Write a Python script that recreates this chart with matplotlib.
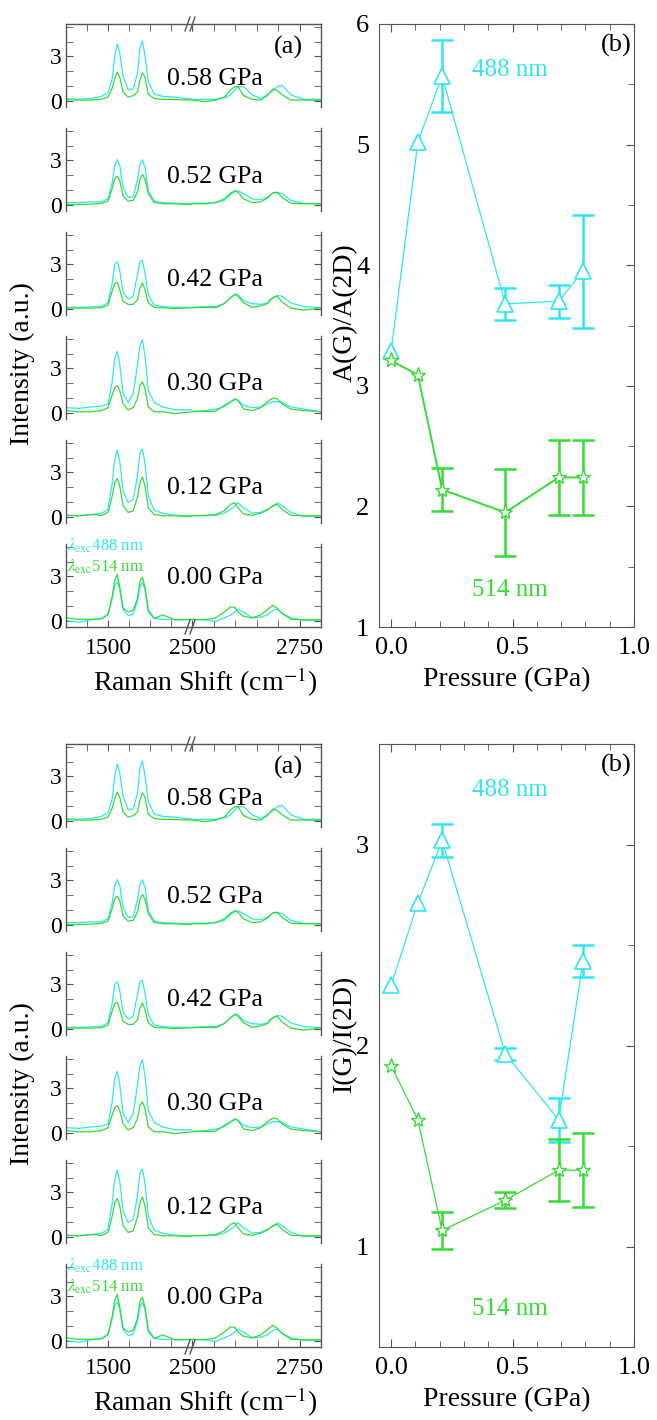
import matplotlib
matplotlib.use("Agg")
import matplotlib.pyplot as plt
from matplotlib.lines import Line2D
from matplotlib.ticker import MultipleLocator, FixedLocator

plt.rcParams['font.family'] = ['Liberation Serif', 'DejaVu Serif']
plt.rcParams['mathtext.fontset'] = 'stix'

CYAN = '#2ee6f2'
GREEN = '#34dc34'
EDGE = '#555555'

W, H = 657, 1420

# ---- spectra (panels listed top to bottom) ----
panel_labels = ['0.58 GPa', '0.52 GPa', '0.42 GPa', '0.30 GPa', '0.12 GPa', '0.00 GPa']
label_heights = [1.5, 1.85, 1.95, 1.95, 1.95, 2.9]

shift_g = [1400, 1430, 1460, 1485, 1500, 1510, 1516, 1522, 1528, 1536, 1548,
           1560, 1570, 1576, 1582, 1588, 1596, 1610, 1630, 1660, 1700]
shift_2d = [2500, 2530, 2555, 2575, 2590, 2600, 2607, 2620, 2640, 2660, 2675,
            2688, 2698, 2710, 2730, 2760, 2800]

g_488 = [
    [0.15, 0.1, 0.15, 0.3, 0.55, 1.5, 3.0, 3.85, 3.2, 1.65, 0.75, 0.8, 1.85, 3.55, 4.05, 3.1, 1.3, 0.45, 0.3, 0.25, 0.1],
    [0.15, 0.15, 0.2, 0.2, 0.4, 1.5, 2.65, 3.05, 2.65, 1.2, 0.5, 0.55, 1.65, 2.75, 3.05, 2.55, 0.95, 0.25, 0.15, 0.1, 0.07],
    [0.1, 0.1, 0.12, 0.18, 0.4, 1.75, 3.0, 3.2, 2.55, 1.1, 0.65, 0.85, 2.3, 3.2, 3.3, 2.4, 0.95, 0.25, 0.15, 0.1, 0.1],
    [0.35, 0.3, 0.4, 0.45, 0.6, 2.1, 3.65, 4.15, 3.3, 1.3, 0.7, 1.3, 3.2, 4.55, 4.95, 3.9, 1.5, 0.7, 0.4, 0.2, 0.2],
    [0.1, 0.07, 0.15, 0.25, 0.5, 2.3, 3.9, 4.5, 3.75, 1.75, 0.95, 1.2, 2.75, 4.3, 4.6, 3.65, 1.4, 0.45, 0.25, 0.1, 0.07],
    [0.02, -0.1, 0.07, 0.15, 0.4, 1.5, 2.4, 2.65, 2.1, 0.75, 0.35, 0.45, 1.3, 2.3, 2.6, 2.1, 0.6, 0.15, 0.1, 0.07, 0.07],
]
g_514 = [
    [0.07, 0.05, 0.05, 0.1, 0.25, 0.85, 1.5, 1.95, 1.6, 0.6, 0.25, 0.35, 0.6, 1.4, 1.9, 1.6, 0.45, 0.15, 0.1, 0.08, 0.05],
    [0.02, 0.02, 0.05, 0.1, 0.25, 1.1, 1.75, 1.95, 1.65, 0.6, 0.25, 0.3, 0.85, 1.7, 2.05, 1.75, 0.75, 0.15, 0.07, 0.07, 0.02],
    [0.05, 0.05, 0.05, 0.08, 0.25, 1.2, 1.7, 1.8, 1.3, 0.5, 0.3, 0.3, 0.6, 1.4, 1.75, 1.3, 0.4, 0.1, 0.07, 0.02, 0.07],
    [0.15, 0.07, 0.07, 0.15, 0.35, 1.2, 1.7, 1.85, 1.5, 0.6, 0.2, 0.35, 0.95, 1.85, 2.1, 1.65, 0.4, 0.07, 0.07, -0.05, 0.07],
    [0.1, 0.07, 0.15, 0.1, 0.3, 1.4, 2.3, 2.6, 2.1, 0.75, 0.3, 0.4, 1.3, 2.3, 2.7, 2.1, 0.6, 0.15, 0.07, 0.07, 0.02],
    [0.2, 0.1, 0.1, 0.15, 0.45, 1.65, 2.75, 3.15, 2.3, 0.85, 0.6, 0.7, 1.5, 2.65, 2.95, 2.3, 0.75, 0.15, 0.4, 0.07, 0.1],
]
d_488 = [
    [0.1, 0.1, 0.1, 0.2, 0.4, 0.75, 0.95, 0.95, 0.4, 0.15, 0.4, 0.7, 0.95, 1.05, 0.4, 0.1, 0.1],
    [0.1, 0.1, 0.15, 0.3, 0.7, 0.9, 0.95, 0.75, 0.4, 0.35, 0.5, 0.8, 0.85, 0.75, 0.3, 0.1, 0.07],
    [0.1, 0.15, 0.15, 0.35, 0.75, 0.95, 0.95, 0.55, 0.35, 0.3, 0.4, 0.75, 0.9, 0.85, 0.4, 0.15, 0.07],
    [0.1, 0.15, 0.25, 0.4, 0.75, 0.9, 0.85, 0.5, 0.35, 0.4, 0.6, 0.75, 0.75, 0.7, 0.4, 0.25, 0.07],
    [0.07, 0.07, 0.1, 0.25, 0.5, 0.75, 0.95, 0.6, 0.25, 0.3, 0.5, 0.7, 0.95, 0.75, 0.3, 0.02, 0.07],
    [0.07, 0.07, -0.05, 0.2, 0.4, 0.6, 0.8, 0.6, 0.2, 0.25, 0.4, 0.7, 0.8, 0.5, 0.2, 0.02, 0.07],
]
d_514 = [
    [0.05, -0.05, 0.05, 0.25, 0.75, 0.95, 0.95, 0.35, 0.1, 0.05, 0.35, 0.8, 0.7, 0.4, 0.05, 0.05, 0.03],
    [0.07, 0.07, 0.15, 0.4, 0.8, 0.95, 0.85, 0.4, 0.15, 0.2, 0.45, 0.8, 0.85, 0.5, 0.1, 0.07, 0.07],
    [0.07, 0.1, 0.07, 0.35, 0.75, 1.0, 0.85, 0.4, 0.1, 0.2, 0.35, 0.75, 0.85, 0.45, 0.05, -0.1, 0.07],
    [0.07, 0.1, 0.1, 0.5, 0.75, 0.95, 0.85, 0.25, 0.15, 0.35, 0.75, 1.0, 0.95, 0.6, 0.25, 0.15, 0.07],
    [0.07, 0.1, 0.15, 0.4, 0.85, 0.95, 0.6, 0.2, 0.1, 0.25, 0.45, 0.75, 0.85, 0.5, 0.1, 0.07, 0.07],
    [0.1, 0.07, 0.2, 0.6, 0.95, 0.9, 0.6, 0.3, 0.2, 0.4, 0.75, 1.05, 0.85, 0.5, 0.1, 0.07, 0.07],
]

# ---- ratios vs pressure ----
pressure = [0.0, 0.11, 0.21, 0.47, 0.69, 0.79]
area_488 = [3.29, 5.02, 5.57, 3.68, 3.70, 3.95]
area_488_err = [0, 0, 0.30, 0.135, 0.135, 0.47]
area_514 = [3.21, 3.09, 2.14, 1.95, 2.24, 2.24]
area_514_err = [0, 0, 0.18, 0.36, 0.31, 0.31]
int_488 = [2.30, 2.71, 3.02, 1.96, 1.63, 2.42]
int_488_err = [0, 0, 0.08, 0.03, 0.11, 0.08]
int_514 = [1.90, 1.63, 1.08, 1.23, 1.38, 1.38]
int_514_err = [0, 0, 0.09, 0.04, 0.155, 0.185]


def fx(x):
    return x / W


def fy(y):
    return 1 - y / H


def draw_spectra(fig, y0):
    left, brk, right = 66, 192, 321
    ph, step = 83, 104
    n = len(panel_labels)
    for i in range(n):
        top = y0 + i * step
        rect_b = fy(top + ph)
        axl = fig.add_axes([fx(left), rect_b, fx(brk - left), ph / H])
        axr = fig.add_axes([fx(brk), rect_b, fx(right - brk), ph / H])
        axl.plot(shift_g, g_488[i], color=CYAN, lw=0.9)
        axl.plot(shift_g, g_514[i], color=GREEN, lw=0.9)
        axr.plot(shift_2d, d_488[i], color=CYAN, lw=0.9)
        axr.plot(shift_2d, d_514[i], color=GREEN, lw=0.9)
        axl.set_xlim(1400, 1700)
        axr.set_xlim(2500, 2800)
        for ax in (axl, axr):
            ax.set_ylim(-0.42, 5.2)
            ax.patch.set_visible(False)
            ax.spines['top'].set_visible(i == 0)
            ax.spines['bottom'].set_visible(i == n - 1)
            for s in ax.spines.values():
                s.set_color(EDGE)
                s.set_linewidth(1.0)
            ax.xaxis.set_minor_locator(MultipleLocator(50))
            ax.yaxis.set_major_locator(FixedLocator([0, 3]))
            ax.yaxis.set_minor_locator(MultipleLocator(1))
            ax.tick_params(axis='x', which='both', direction='in', length=5,
                           color=EDGE, top=(i == 0), bottom=(i == n - 1),
                           labelbottom=(i == n - 1), labelsize=17, pad=8)
        axl.spines['right'].set_visible(False)
        axr.spines['left'].set_visible(False)
        axl.xaxis.set_major_locator(FixedLocator([1500]))
        axr.xaxis.set_major_locator(FixedLocator([2500, 2750]))
        axl.tick_params(axis='y', which='both', direction='in', length=5,
                        color=EDGE, left=True, right=False, labelsize=17, pad=3)
        axr.tick_params(axis='y', which='both', direction='in', length=5,
                        color=EDGE, left=False, right=True, labelleft=False)
        axl.text(1641, label_heights[i], panel_labels[i], fontsize=18.5,
                 ha='left', va='center')
        if i == 0:
            fig.text(fx(288), fy(top + 23), '(a)', fontsize=19,
                     ha='center', va='center')
        if i == n - 1:
            axl.text(1403, 5.1, r'$\lambda_{\rm exc}$488 nm', color=CYAN,
                     fontsize=12, ha='left', va='center')
            axl.text(1403, 3.65, r'$\lambda_{\rm exc}$514 nm', color=GREEN,
                     fontsize=12, ha='left', va='center')
    # axis break marks
    for yy in (y0, y0 + n * step - (step - ph)):
        for dx in (-4, 1):
            fig.add_artist(Line2D([fx(brk + dx - 3), fx(brk + dx + 2)],
                                  [fy(yy + 7), fy(yy - 7)], color=EDGE, lw=1.0))
    fig.text(fx(205), fy(y0 + 658), r'Raman Shift (cm$^{-1}$)', fontsize=20,
             ha='center', va='center')
    fig.text(fx(22), fy(y0 + 340), 'Intensity (a.u.)', fontsize=20,
             rotation=90, ha='center', va='center')


def draw_ratio(fig, y0, y488, e488, y514, e514, ylim, ylabel, t488, t514, lw514):
    ax = fig.add_axes([fx(379), fy(y0 + 603), fx(255), 603 / H])
    ax.patch.set_visible(False)
    ax.plot(pressure, y488, color=CYAN, lw=0.9, marker='^', ms=12,
            mfc='white', mec=CYAN, mew=1.2, zorder=3)
    ax.plot(pressure, y514, color=GREEN, lw=lw514, marker='*', ms=11,
            mfc='white', mec=GREEN, mew=1.0, zorder=3)
    for yv, ev, col in ((y488, e488, CYAN), (y514, e514, GREEN)):
        idx = [k for k in range(len(pressure)) if ev[k] > 0]
        ax.errorbar([pressure[k] for k in idx], [yv[k] for k in idx],
                    yerr=[ev[k] for k in idx], fmt='none', ecolor=col,
                    elinewidth=1.8, capsize=8, capthick=1.8, zorder=2)
    ax.set_xlim(-0.05, 1.0)
    ax.set_ylim(*ylim)
    ax.xaxis.set_major_locator(FixedLocator([0.0, 0.5, 1.0]))
    ax.xaxis.set_minor_locator(MultipleLocator(0.1))
    ax.yaxis.set_major_locator(MultipleLocator(1))
    ax.yaxis.set_minor_locator(MultipleLocator(0.5))
    ax.set_xticklabels(['0.0', '0.5', '1.0'])
    for s in ax.spines.values():
        s.set_color(EDGE)
    ax.tick_params(axis='x', which='both', direction='in', top=True,
                   bottom=True, color=EDGE, labelsize=19, pad=7)
    ax.tick_params(axis='y', which='both', direction='in', left=False,
                   right=True, labelleft=True, color=EDGE, labelsize=19, pad=7)
    ax.tick_params(which='major', length=6)
    ax.tick_params(which='minor', length=4)
    ax.set_xlabel('Pressure (GPa)', fontsize=20, labelpad=6)
    fig.text(fx(345), fy(y0 + 289), ylabel, fontsize=20, rotation=90,
             ha='center', va='center')
    ax.text(0.49, t488, '488 nm', color=CYAN, fontsize=18, ha='center', va='center')
    ax.text(0.49, t514, '514 nm', color=GREEN, fontsize=18, ha='center', va='center')
    fig.text(fx(616), fy(y0 + 21), '(b)', fontsize=19, ha='center', va='center')


fig = plt.figure(figsize=(W / 100, H / 100), dpi=100)

draw_spectra(fig, 24)
draw_ratio(fig, 24, area_488, area_488_err, area_514, area_514_err,
           (1, 6), 'A(G)/A(2D)', 5.62, 1.31, 1.4)

draw_spectra(fig, 744)
draw_ratio(fig, 744, int_488, int_488_err, int_514, int_514_err,
           (0.5, 3.5), 'I(G)/I(2D)', 3.27, 0.69, 0.9)

fig.savefig('out.png', dpi=100)
